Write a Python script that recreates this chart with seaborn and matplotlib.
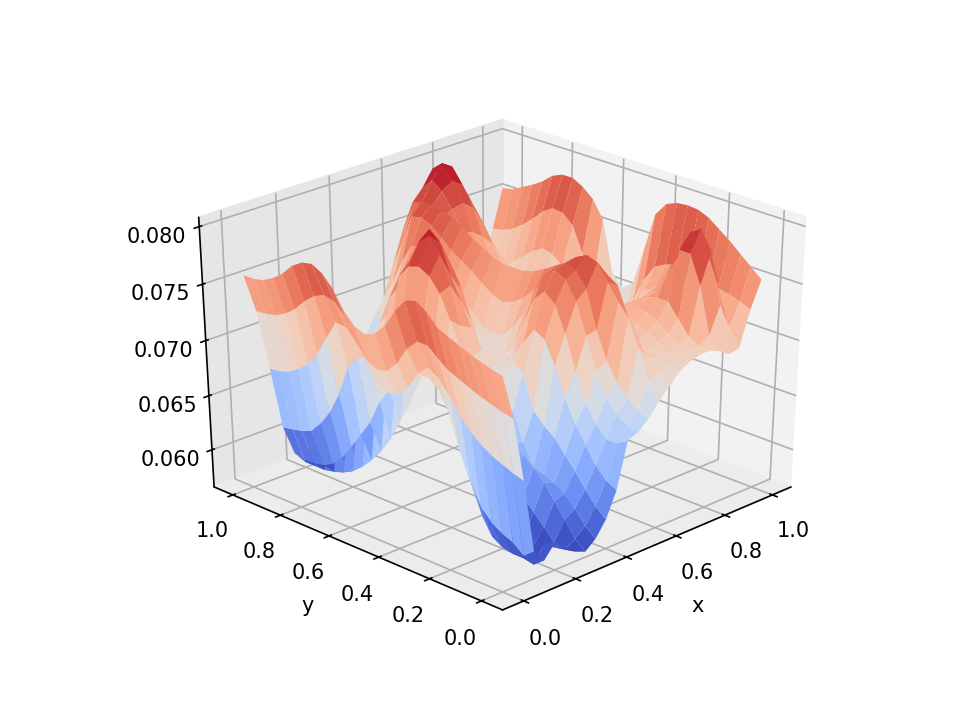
import numpy as np
import matplotlib
matplotlib.use("Agg")
import matplotlib.pyplot as plt
import seaborn as sns

# Surface heights in units of 1e-4; one row per x value, one column per y value.
x_values = [i * 0.04 for i in range(26)]
y_values = [j * 0.04 for j in range(26)]
height_rows = [
    [755,757,760,763,767,771,775,785,791,788,776,760,750,746,750,760,775,785,790,788,782,772,765,760,758,758],
    [715,717,720,723,727,731,735,742,750,750,740,724,714,712,718,730,748,758,760,756,748,738,731,726,724,723],
    [657,660,664,668,674,682,692,706,718,724,716,700,690,688,694,708,722,732,733,716,698,686,678,672,669,668],
    [590,582,590,594,600,610,628,652,682,700,708,708,704,702,704,706,706,702,690,662,642,628,618,614,612,610],
    [578,570,572,572,574,580,596,625,660,690,702,708,700,692,684,676,662,640,625,610,596,587,582,580,580,582],
    [590,585,580,574,572,573,578,600,630,672,700,712,708,688,665,645,625,610,598,588,580,575,572,570,570,570],
    [582,578,575,572,572,574,580,600,635,668,670,682,692,700,708,712,712,705,690,675,660,645,630,615,605,600],
    [574,572,575,585,595,605,612,622,640,662,690,715,738,758,770,775,772,760,738,712,685,660,640,625,615,610],
    [570,578,592,605,618,628,636,642,650,670,690,705,730,762,785,798,790,770,745,720,700,682,665,650,635,625],
    [578,586,598,608,614,618,622,640,665,680,695,710,725,745,765,790,798,785,762,735,712,695,680,665,655,645],
    [592,600,612,625,636,648,655,665,695,700,702,702,700,725,748,768,782,775,758,735,715,702,690,672,660,650],
    [615,620,630,645,660,680,705,725,730,715,700,690,680,690,715,745,752,750,738,725,715,712,700,685,672,662],
    [656,650,650,660,675,700,730,752,760,750,725,700,690,690,700,710,720,725,725,722,725,735,730,700,685,680],
    [660,662,668,680,700,728,755,770,775,768,750,728,712,702,700,704,712,722,728,738,748,755,752,735,712,695],
    [668,672,680,690,706,730,762,775,778,770,758,745,735,728,725,728,735,742,748,754,762,770,774,772,745,722],
    [680,695,720,745,755,768,782,785,780,772,766,760,755,752,752,752,755,760,765,772,777,780,782,782,772,750],
    [690,698,708,722,738,762,768,768,755,725,702,684,675,670,672,680,700,720,735,745,752,760,768,775,775,772],
    [700,702,704,708,712,720,725,722,705,680,660,648,640,636,638,645,658,675,695,715,735,755,772,785,792,782],
    [705,706,708,712,718,722,726,728,715,690,668,650,640,636,638,645,655,668,685,705,728,752,775,792,804,796],
    [708,708,710,716,724,728,730,730,718,695,672,655,645,640,642,648,658,670,685,702,722,745,768,785,798,785],
    [708,708,714,726,738,738,735,730,720,700,678,662,652,648,650,655,665,675,688,702,718,735,752,765,772,768],
    [704,715,755,780,780,758,738,730,722,705,685,668,658,655,658,665,672,680,690,700,710,720,730,738,740,740],
    [698,738,782,798,792,768,750,735,722,705,688,672,660,655,658,668,680,692,702,708,706,706,708,710,711,711],
    [700,715,745,768,765,750,738,732,728,722,705,685,670,660,665,680,700,718,726,728,722,714,706,700,696,694],
    [731,735,738,740,740,745,748,748,745,740,725,702,680,665,672,700,730,752,760,761,755,745,737,730,726,724],
    [754,762,770,778,785,792,796,797,796,792,780,745,712,705,716,760,775,783,788,788,784,776,770,765,760,758],
]
z_ticks = [0.060, 0.065, 0.070, 0.075, 0.080]
axis_ticks = [0.0, 0.2, 0.4, 0.6, 0.8, 1.0]

sns.set_style("white", {
    "axes.edgecolor": "black", "axes.labelcolor": "black", "text.color": "black",
    "xtick.color": "black", "ytick.color": "black", "grid.color": "#b0b0b0",
    "grid.linewidth": 1.0, "font.family": ["DejaVu Sans"],
})
surface_cmap = sns.color_palette("coolwarm", as_cmap=True)

X, Y = np.meshgrid(x_values, y_values, indexing="ij")
Z = np.array(height_rows) * 1e-4

fig = plt.figure(figsize=(961 / 150, 719 / 150), dpi=150)
ax = fig.add_subplot(projection="3d")
# Let the unit cube stretch over the whole axes rectangle instead of a square.
ax.apply_aspect = lambda position=None: None
ax.plot_surface(X, Y, Z, cmap=surface_cmap, vmin=0.0575, vmax=0.0800,
                rstride=1, cstride=1, linewidth=0, antialiased=True)
ax.view_init(elev=30, azim=-135)
ax.set_box_aspect((1, 1, 1), zoom=0.945)
ax.set_xlim(-0.08, 1.08)
ax.set_ylim(-0.08, 1.08)
ax.set_zlim(0.0565, 0.0808)
ax.set_xticks(axis_ticks)
ax.set_yticks(axis_ticks)
ax.set_zticks(z_ticks)
ax.set_zticklabels([f"{t:.3f}" for t in z_ticks])
ax.set_xlabel("x")
ax.set_ylabel("y")
ax.xaxis.set_pane_color((0.95, 0.95, 0.95, 1.0))
ax.yaxis.set_pane_color((0.90, 0.90, 0.90, 1.0))
ax.zaxis.set_pane_color((0.925, 0.925, 0.925, 1.0))
fig.savefig("out.png", dpi=150)
